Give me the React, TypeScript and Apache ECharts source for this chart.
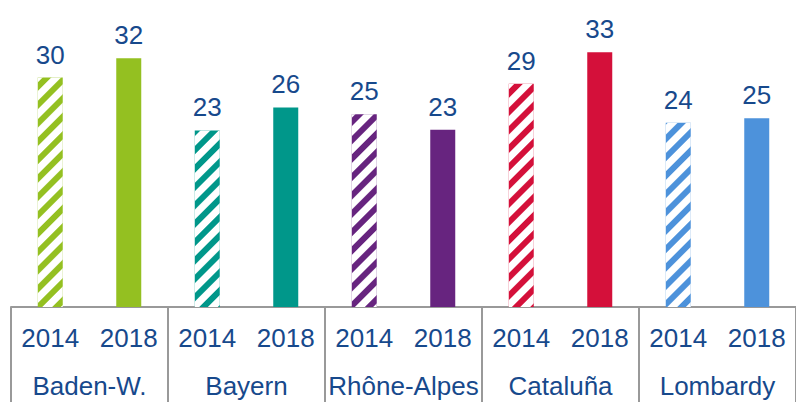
import React, { useEffect, useRef } from "react";
import * as echarts from "echarts";

const regions = ["Baden-W.", "Bayern", "Rhône-Alpes", "Cataluña", "Lombardy"];
const years = ["2014", "2018"];
const values2014 = [29.9, 23.0, 25.1, 29.1, 24.0];
const values2018 = [32.4, 26.0, 23.1, 33.2, 24.6];
const regionColors = ["#94c021", "#00978a", "#67247f", "#d4103a", "#4d92db"];

const TEXT = "#17498c";
const FONT = "'Liberation Sans', Arial, sans-serif";

export default function App() {
  const ref = useRef<HTMLDivElement>(null);
  useEffect(() => {
    document.body.style.margin = "0";
    if (!ref.current) return;
    const chart = echarts.init(ref.current, undefined, { renderer: "svg" });

    const yearCats: string[] = [];
    const data: any[] = [];
    regions.forEach((r, i) => {
      years.forEach((y) => {
        yearCats.push(y);
        const v = y === "2014" ? values2014[i] : values2018[i];
        const item: any = { value: v, itemStyle: { color: regionColors[i] } };
        if (y === "2014") {
          item.itemStyle.decal = {
            symbol: "rect",
            symbolSize: 1,
            color: "#ffffff",
            dashArrayX: [1, 0],
            dashArrayY: [7, 6],
            rotation: -Math.PI / 4,
          };
        }
        data.push(item);
      });
    });

    chart.setOption({
      animation: false,
      grid: { left: 11, right: -3, top: -1, bottom: 95 },
      xAxis: [
        {
          type: "category",
          data: yearCats,
          position: "bottom",
          axisLine: { show: true, lineStyle: { color: "#999999", width: 2 } },
          axisTick: { show: false },
          axisLabel: { color: TEXT, fontSize: 26, fontFamily: FONT, margin: 18, interval: 0 },
        },
        {
          type: "category",
          data: regions,
          position: "bottom",
          axisLine: { show: false },
          axisTick: { show: true, length: 100, lineStyle: { color: "#999999", width: 2 } },
          axisLabel: { color: TEXT, fontSize: 26, fontFamily: FONT, margin: 66, interval: 0 },
        },
      ],
      yAxis: {
        type: "value",
        min: 0,
        max: 40,
        show: false,
        splitLine: { show: false },
      },
      series: [
        {
          type: "bar",
          xAxisIndex: 0,
          barWidth: 25,
          data,
          label: {
            show: true,
            position: "top",
            distance: 10,
            color: TEXT,
            fontSize: 26,
            fontFamily: FONT,
            formatter: (p: any) => String(Math.round(p.value)),
          },
        },
      ],
    });
    return () => chart.dispose();
  }, []);
  return <div ref={ref} style={{ width: 796, height: 402 }} />;
}
